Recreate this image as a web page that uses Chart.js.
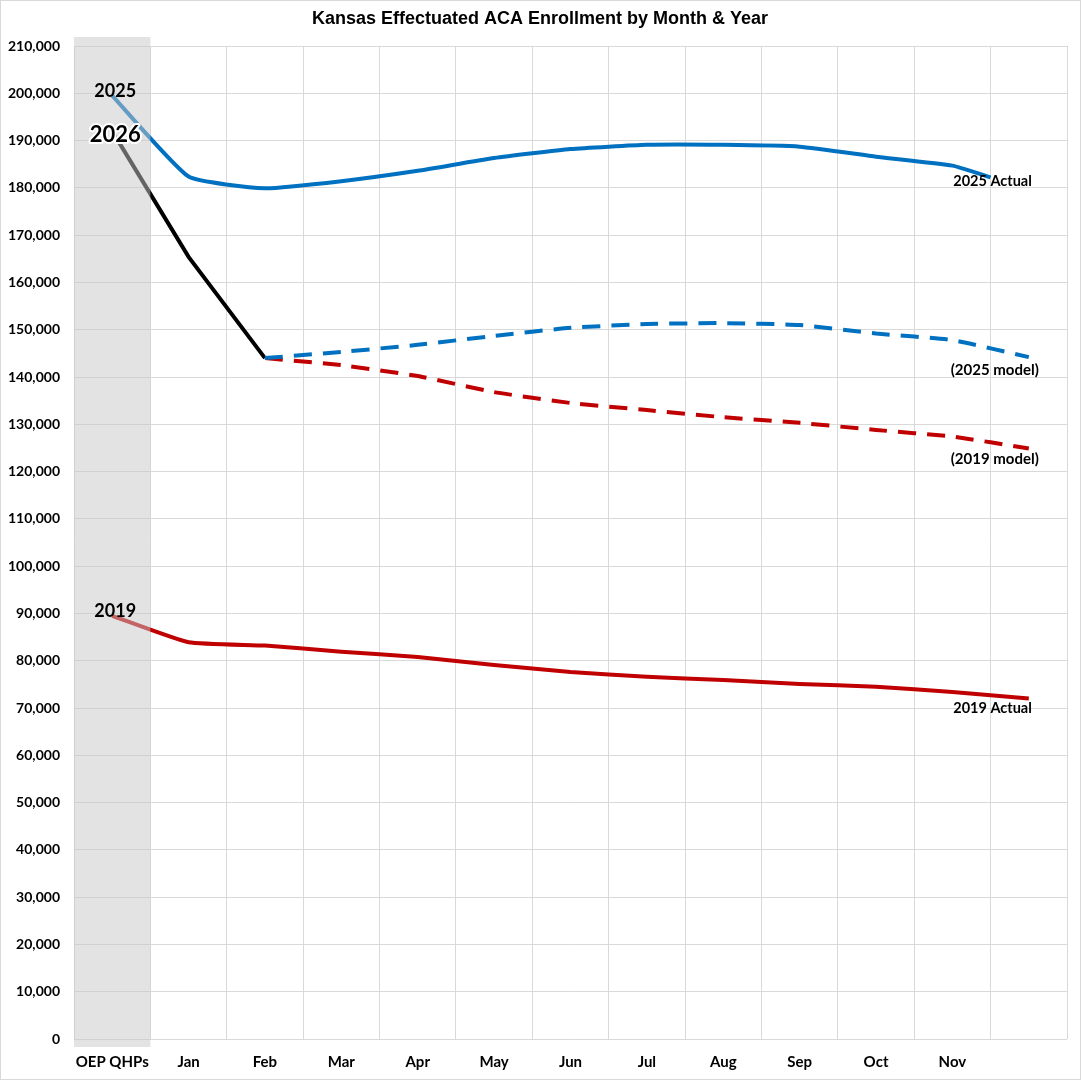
<!DOCTYPE html>
<html>
<head>
<meta charset="utf-8">
<script src="https://cdn.jsdelivr.net/npm/chart.js@4/dist/chart.umd.min.js"></script>
<style>
  html, body { margin: 0; padding: 0; background: #fff; }
  canvas { display: block; }
</style>
</head>
<body>
<canvas id="c" width="1081" height="1080"></canvas>
<script>
// categories (last slot is December, left unlabelled like the original)
const months = ['OEP QHPs', 'Jan', 'Feb', 'Mar', 'Apr', 'May', 'Jun', 'Jul', 'Aug', 'Sep', 'Oct', 'Nov', ''];

// series values
const actual2025 = [199500, 182400, 179900, 181400, 183600, 186300, 188200, 189100, 189100, 188700, 186600, 184700, 182200];
const actual2025X = [0, 1, 2, 3, 4, 5, 6, 7, 8, 9, 10, 11, 11.5]; // 2025 line stops halfway into Dec
const actual2026 = [192000, 165400, 144000];
const model2025 = [null, null, 144000, 145300, 146800, 148700, 150400, 151200, 151400, 151000, 149200, 147800, 144200];
const model2019 = [null, null, 144000, 142500, 140200, 136800, 134500, 133000, 131500, 130300, 128800, 127400, 124900];
const actual2019 = [89500, 83900, 83200, 81900, 80800, 79100, 77600, 76600, 75900, 75100, 74500, 73400, 72000];

// y axis
const yMin = 0, yMax = 210000, yStep = 10000;

const BLUE = '#0070c0';
const RED = '#c00000';

const toPoints = (vals, xs) =>
  vals.map((v, i) => ({ x: xs ? xs[i] : i, y: v })).filter(p => p.y !== null);

const last = arr => arr[arr.length - 1];

const overlay = {
  id: 'overlay',
  afterDatasetsDraw(chart) {
    const { ctx, chartArea: a, scales: { x, y } } = chart;
    ctx.save();

    // shaded open-enrollment column, drawn over the lines
    const bandRight = x.getPixelForValue(0.5);
    ctx.fillStyle = 'rgba(200,200,200,0.5)';
    ctx.fillRect(a.left, a.top - 9, bandRight - a.left, a.bottom - a.top + 17);

    // series labels on the right
    ctx.fillStyle = '#000';
    ctx.textBaseline = 'middle';
    ctx.textAlign = 'right';
    ctx.font = 'bold 14.5px Lato';
    const xr = x.getPixelForValue(months.length - 1);
    ctx.fillText('2025 Actual', xr + 3, y.getPixelForValue(last(actual2025)) + 4);
    ctx.fillText('2019 Actual', xr + 3, y.getPixelForValue(last(actual2019)) + 10);
    ctx.font = 'bold 15px Lato';
    ctx.fillText('(2025 model)', xr + 10, y.getPixelForValue(last(model2025)) + 13);
    ctx.fillText('(2019 model)', xr + 10, y.getPixelForValue(last(model2019)) + 11);

    // year labels at the start
    ctx.textAlign = 'center';
    const x0 = x.getPixelForValue(0) + 3;
    ctx.font = 'bold 18px Lato';
    ctx.fillText('2025', x0, y.getPixelForValue(actual2025[0]) - 4);
    ctx.fillText('2019', x0, y.getPixelForValue(actual2019[0]) - 5);
    ctx.font = 'bold 22px Lato';
    ctx.lineJoin = 'round';
    ctx.lineWidth = 4;
    ctx.strokeStyle = '#fff';
    ctx.strokeText('2026', x0, y.getPixelForValue(actual2026[0]) + 4);
    ctx.fillText('2026', x0, y.getPixelForValue(actual2026[0]) + 4);

    ctx.restore();
  },
  afterDraw(chart) {
    const { ctx, width, height } = chart;
    ctx.save();
    ctx.fillStyle = '#000';
    ctx.textAlign = 'center';
    ctx.textBaseline = 'middle';
    ctx.font = 'bold 18px "Liberation Sans", Arial, sans-serif';
    ctx.fillText('Kansas Effectuated ACA Enrollment by Month & Year', 540, 19);
    ctx.strokeStyle = '#d9d9d9';
    ctx.lineWidth = 1;
    ctx.strokeRect(0.5, 0.5, width - 1, height - 1);
    ctx.restore();
  }
};

new Chart(document.getElementById('c'), {
  type: 'line',
  data: {
    datasets: [
      {
        label: '2025 Actual',
        data: toPoints(actual2025, actual2025X),
        borderColor: BLUE,
        borderWidth: 4,
        tension: 0.15
      },
      {
        label: '2025 model',
        data: toPoints(model2025),
        borderColor: BLUE,
        borderWidth: 4,
        borderDash: [18, 11],
        tension: 0.15
      },
      {
        label: '2019 model',
        data: toPoints(model2019),
        borderColor: RED,
        borderWidth: 4,
        borderDash: [18, 11],
        tension: 0.15
      },
      {
        label: '2019 Actual',
        data: toPoints(actual2019),
        borderColor: RED,
        borderWidth: 4,
        tension: 0.15
      },
      {
        label: '2026',
        data: toPoints(actual2026),
        borderColor: '#000',
        borderWidth: 4,
        tension: 0
      }
    ]
  },
  options: {
    responsive: false,
    animation: false,
    devicePixelRatio: 1,
    elements: { point: { radius: 0, hoverRadius: 0 } },
    layout: { padding: { top: 46, right: 13, left: 0, bottom: 0 } },
    plugins: {
      legend: { display: false },
      tooltip: { enabled: false }
    },
    scales: {
      x: {
        type: 'linear',
        min: -0.5,
        max: months.length - 0.5,
        afterBuildTicks: s => {
          const t = [];
          for (let v = -0.5; v <= months.length - 0.5; v += 0.5) t.push({ value: v });
          s.ticks = t;
        },
        afterFit: s => { s.height = 41; },
        border: { display: false },
        grid: {
          drawTicks: false,
          color: c => Number.isInteger(c.tick.value) ? 'rgba(0,0,0,0)' : '#d9d9d9'
        },
        ticks: {
          autoSkip: false,
          maxRotation: 0,
          padding: 14,
          color: '#000',
          font: { family: 'Lato', weight: 'bold', size: 15 },
          callback: v => Number.isInteger(v) ? months[v] : ''
        }
      },
      y: {
        min: yMin,
        max: yMax,
        afterFit: s => { s.width = 74; },
        border: { display: false },
        grid: { drawTicks: false, color: '#d9d9d9' },
        ticks: {
          stepSize: yStep,
          padding: 14,
          color: '#000',
          font: { family: 'Lato', weight: 'bold', size: 14 },
          callback: v => v.toLocaleString('en-US')
        }
      }
    }
  },
  plugins: [overlay]
});
</script>
</body>
</html>
